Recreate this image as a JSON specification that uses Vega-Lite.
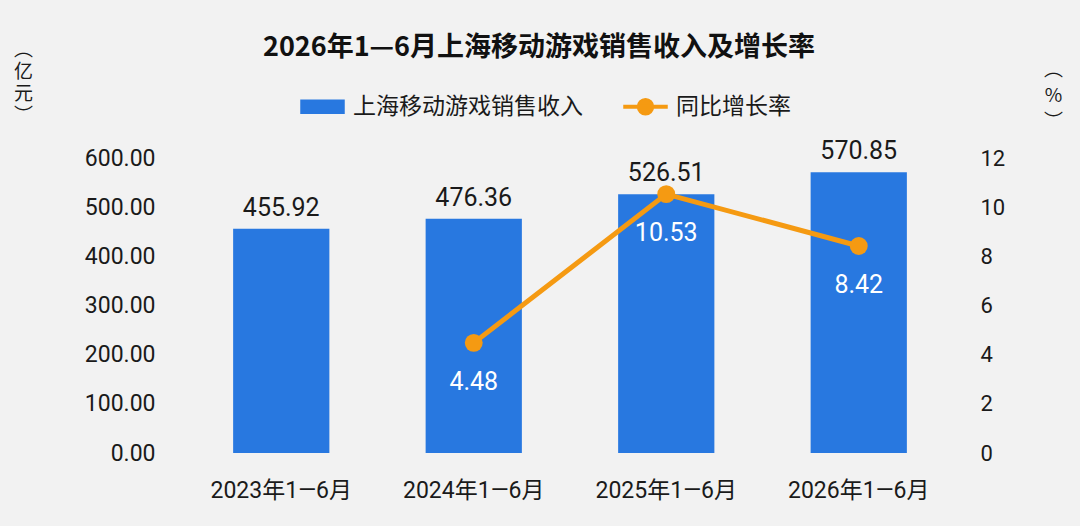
{
  "$schema": "https://vega.github.io/schema/vega-lite/v6.json",
  "width": 770,
  "height": 295,
  "autosize": {"type": "none"},
  "padding": {"left": 185, "top": 158, "right": 125, "bottom": 73},
  "background": "#f2f2f2",
  "config": {
    "view": {"stroke": null},
    "font": "Roboto, Noto Sans CJK SC",
    "axis": {"grid": false, "ticks": false, "domain": false}
  },
  "title": {
    "text": "2026年1—6月上海移动游戏销售收入及增长率",
    "font": "Noto Sans CJK SC",
    "fontSize": 27,
    "fontWeight": "bold",
    "color": "#111111",
    "anchor": "middle",
    "dx": -31,
    "offset": -22
  },
  "data": {
    "values": [
      {"period": "2023年1—6月", "revenue": 455.92, "growth": null},
      {"period": "2024年1—6月", "revenue": 476.36, "growth": 4.48},
      {"period": "2025年1—6月", "revenue": 526.51, "growth": 10.53},
      {"period": "2026年1—6月", "revenue": 570.85, "growth": 8.42}
    ]
  },
  "encoding": {
    "x": {
      "field": "period",
      "type": "nominal",
      "sort": null,
      "scale": {"paddingInner": 0.5, "paddingOuter": 0.25},
      "axis": {
        "title": null,
        "labelAngle": 0,
        "labelFontSize": 23,
        "labelColor": "#1a1a1a",
        "labelPadding": 26
      }
    }
  },
  "layer": [
    {
      "layer": [
        {
          "mark": {"type": "bar", "color": "#2878e0"},
          "encoding": {
            "y": {
              "field": "revenue",
              "type": "quantitative",
              "scale": {"domain": [0, 600]},
              "axis": {
                "orient": "left",
                "values": [0, 100, 200, 300, 400, 500, 600],
                "format": ".2f",
                "labelFontSize": 23,
                "labelColor": "#1a1a1a",
                "labelPadding": 30,
                "title": ["︵", "亿", "元", "︶"],
                "titleFont": "Noto Sans CJK SC",
                "titleFontSize": 19,
                "titleFontWeight": "normal",
                "titleColor": "#1a1a1a",
                "titleAngle": 0,
                "titleAlign": "center",
                "titleBaseline": "top",
                "titleLineHeight": 22,
                "titleX": -162,
                "titleY": -118
              }
            },
            "color": {
              "datum": "上海移动游戏销售收入",
              "type": "nominal",
              "scale": {
                "domain": ["上海移动游戏销售收入", "同比增长率"],
                "range": ["#2878e0", "#f59a12"]
              },
              "legend": {
                "orient": "none",
                "direction": "horizontal",
                "legendX": 115,
                "legendY": -74,
                "title": null,
                "labelFont": "Noto Sans CJK SC",
                "labelFontSize": 23,
                "labelColor": "#1a1a1a",
                "labelOffset": 8,
                "labelLimit": 400,
                "columnPadding": 38,
                "symbolSize": 1849,
                "encode": {
                  "symbols": {
                    "update": {
                      "shape": {"signal": "datum.value === '同比增长率' ? 'M-1,-0.06L1,-0.06L1,0.06L-1,0.06Z M-0.37,0A0.37,0.37 0 1,1 0.37,0A0.37,0.37 0 1,1 -0.37,0Z' : 'M-1,-0.3L1,-0.3L1,0.3L-1,0.3Z'"},
                      "fill": {"scale": "color", "field": "value"},
                      "stroke": {"value": "transparent"},
                      "size": {"value": 1849},
                      "opacity": {"value": 1}
                    }
                  }
                }
              }
            }
          }
        },
        {
          "mark": {
            "type": "text",
            "baseline": "alphabetic",
            "dy": -13,
            "fontSize": 25,
            "color": "#1a1a1a"
          },
          "encoding": {
            "y": {"field": "revenue", "type": "quantitative"},
            "text": {"field": "revenue", "type": "quantitative", "format": ".2f"}
          }
        }
      ]
    },
    {
      "transform": [{"filter": "datum.growth != null"}],
      "layer": [
        {
          "mark": {"type": "line", "strokeWidth": 5},
          "encoding": {
            "y": {
              "field": "growth",
              "type": "quantitative",
              "scale": {"domain": [0, 12]},
              "axis": {
                "orient": "right",
                "values": [0, 2, 4, 6, 8, 10, 12],
                "labelFontSize": 22,
                "labelColor": "#1a1a1a",
                "labelPadding": 25,
                "title": ["︵", "%", "︶"],
                "titleFont": "Noto Sans CJK SC",
                "titleFontSize": 19,
                "titleFontWeight": "normal",
                "titleColor": "#1a1a1a",
                "titleAngle": 0,
                "titleAlign": "center",
                "titleBaseline": "top",
                "titleLineHeight": 26,
                "titleX": 98,
                "titleY": -98
              }
            },
            "color": {"datum": "同比增长率", "type": "nominal"}
          }
        },
        {
          "mark": {"type": "point", "filled": true, "size": 320, "opacity": 1, "color": "#f59a12"},
          "encoding": {
            "y": {"field": "growth", "type": "quantitative"}
          }
        },
        {
          "mark": {
            "type": "text",
            "baseline": "middle",
            "dy": 39,
            "fontSize": 25,
            "color": "#ffffff"
          },
          "encoding": {
            "y": {"field": "growth", "type": "quantitative"},
            "text": {"field": "growth", "type": "quantitative", "format": ".2f"}
          }
        }
      ]
    }
  ],
  "resolve": {"scale": {"y": "independent"}}
}
